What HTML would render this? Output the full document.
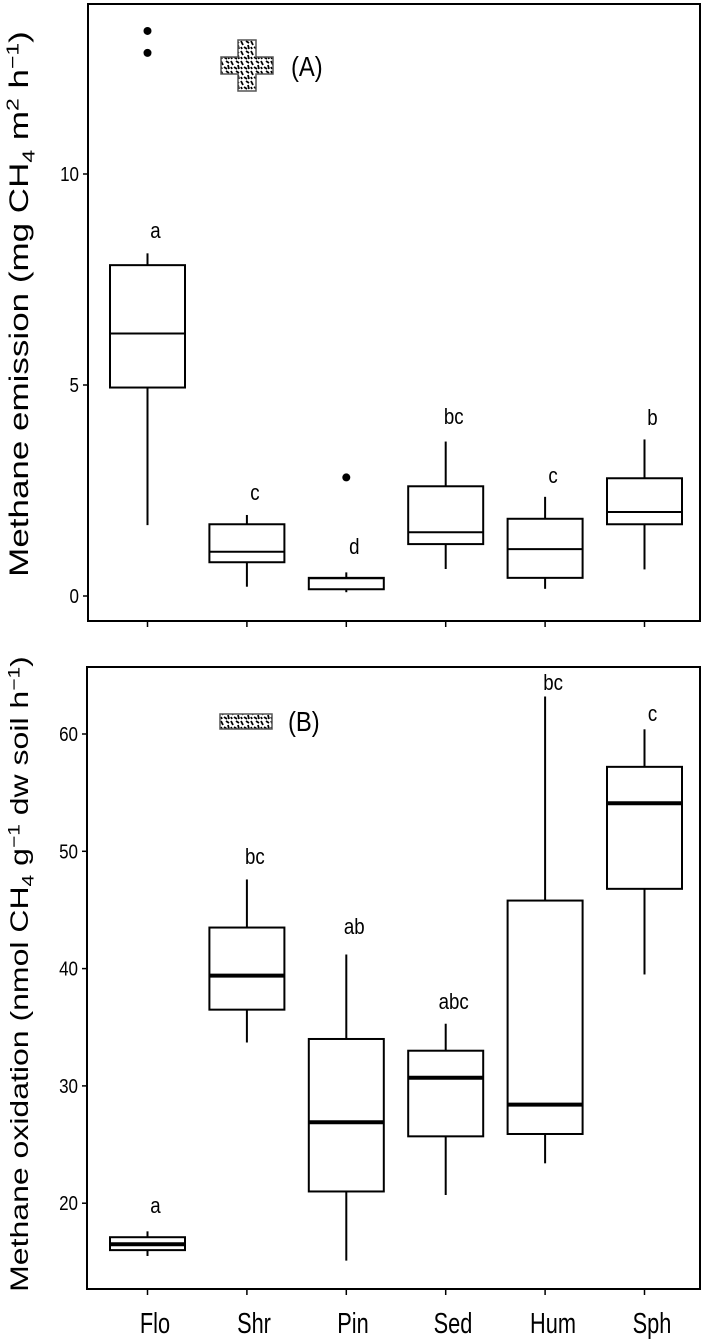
<!DOCTYPE html>
<html><head><meta charset="utf-8">
<style>
html,body{margin:0;padding:0;background:#fff;}
svg{display:block;font-family:"Liberation Sans",Arial,sans-serif;}
</style></head>
<body>
<svg id="chart" width="709" height="1340" viewBox="0 0 709 1340" xmlns="http://www.w3.org/2000/svg">
<g id="panelA"></g>
<g id="panelB"></g>
</svg>
<script>
const categories = ["Flo","Shr","Pin","Sed","Hum","Sph"];
// Panel A: methane emission
const aWhiskerLow = [1.68,0.22,0.09,0.64,0.17,0.63];
const aQ1 = [4.94,0.80,0.16,1.23,0.43,1.70];
const aMedian = [6.22,1.05,0.42,1.51,1.11,1.99];
const aQ3 = [7.84,1.70,0.43,2.60,1.83,2.79];
const aWhiskerHigh = [8.12,1.92,0.56,3.66,2.35,3.71];
const aOutliers = [[13.39,12.87],[],[2.81],[],[],[]];
const aLetters = ["a","c","d","bc","c","b"];
const aTicks = [0,5,10];
// Panel B: methane oxidation
const bWhiskerLow = [15.5,33.7,15.1,20.7,23.4,39.5];
const bQ1 = [16.0,36.5,21.0,25.7,25.9,46.8];
const bMedian = [16.5,39.4,26.9,30.7,28.4,54.1];
const bQ3 = [17.1,43.5,34.0,33.0,45.8,57.2];
const bWhiskerHigh = [17.6,47.6,41.2,35.3,63.2,60.4];
const bLetters = ["a","bc","ab","abc","bc","c"];
const bTicks = [20,30,40,50,60];

const NS = "http://www.w3.org/2000/svg";
function mk(parent, tag, attrs, text){
  const e = document.createElementNS(NS, tag);
  for (const k in attrs) e.setAttribute(k, attrs[k]);
  if (text !== undefined) e.textContent = text;
  parent.appendChild(e);
  return e;
}
const xPos = i => 147.5 + i*99.4;
const halfW = 37.5;

function drawPanel(g, opt){
  const y = v => opt.y0 - (v - opt.v0) * opt.ppu;
  const frame = mk(g,'rect',{x:opt.left,y:opt.top,width:opt.right-opt.left,height:opt.bottom-opt.top,fill:'none',stroke:'#000','stroke-width':2});
  
  
  opt.ticks.forEach(t=>{
    const tk = mk(g,'line',{x1:opt.left-5,x2:opt.left,y1:y(t),y2:y(t),stroke:'#000','stroke-width':1.5});
    
    
    const tl = mk(g,'text',{transform:'translate('+(opt.left-9)+','+(y(t)+7)+') scale(0.85,1)','text-anchor':'end','font-size':20},String(t));
    
    
  });
  categories.forEach((c,i)=>{
    const cx = xPos(i);
    const xt = mk(g,'line',{x1:cx,x2:cx,y1:opt.bottom,y2:opt.bottom+6,stroke:'#000','stroke-width':1.5});
    
    
    const box = mk(g,'g',{});
    
    
    mk(box,'line',{x1:cx,x2:cx,y1:y(opt.hi[i]),y2:y(opt.q3[i]),stroke:'#000','stroke-width':2});
    mk(box,'line',{x1:cx,x2:cx,y1:y(opt.q1[i]),y2:y(opt.lo[i]),stroke:'#000','stroke-width':2});
    mk(box,'rect',{x:cx-halfW,y:y(opt.q3[i]),width:2*halfW,height:Math.max(1,y(opt.q1[i])-y(opt.q3[i])),fill:'#fff',stroke:'#000','stroke-width':2});
    mk(box,'line',{x1:cx-halfW,x2:cx+halfW,y1:y(opt.med[i]),y2:y(opt.med[i]),stroke:'#000','stroke-width':opt.medW});
    (opt.out[i]||[]).forEach(v=>{
      const d = mk(g,'circle',{cx:cx,cy:y(v),r:4,fill:'#000'});
      
      
    });
    const lt = mk(g,'text',{transform:'translate('+(cx+8)+','+(opt.letterY[i]+8)+') scale(0.85,1)','text-anchor':'middle','font-size':22},opt.letters[i]);
    
    
  });
}

const gA = document.getElementById('panelA');
drawPanel(gA,{prefix:'a',left:88,right:700,top:4,bottom:621,y0:596,v0:0,ppu:42.2,ticks:aTicks,
  lo:aWhiskerLow,q1:aQ1,med:aMedian,q3:aQ3,hi:aWhiskerHigh,out:aOutliers,letters:aLetters,medW:2,
  letterY:[230,492,546,416,475,417]});
const gB = document.getElementById('panelB');
drawPanel(gB,{prefix:'b',left:87,right:700,top:667,bottom:1289,y0:734,v0:60,ppu:11.73,ticks:bTicks,
  lo:bWhiskerLow,q1:bQ1,med:bMedian,q3:bQ3,hi:bWhiskerHigh,out:[[],[],[],[],[],[]],letters:bLetters,medW:4,
  letterY:[1205,856,926,1001,682,713]});
</script>
<svg style="position:absolute;left:0;top:0" width="709" height="1340" viewBox="0 0 709 1340" xmlns="http://www.w3.org/2000/svg">
<defs>
<pattern id="hatch2" width="10" height="10" patternUnits="userSpaceOnUse">
<rect width="10" height="10" fill="#fff"/>
<path d="M1 1 L3 5 M6 1 L9 3 M4 7 L7 9 M8 5 L9 9 M1 7 L2 9" stroke="#000" stroke-width="1.8"/>
</pattern>
</defs>
<path d="M238 40 H256 V57 H273 V74 H256 V91 H238 V74 H221 V57 H238 Z" fill="url(#hatch2)" stroke="#555" stroke-width="1.5"/>
<text transform="translate(291,76) scale(0.85,1)" font-size="28" font-family="Liberation Sans, sans-serif">(A)</text>
<rect x="220" y="714" width="52" height="15" fill="url(#hatch2)" stroke="#555" stroke-width="1.5"/>
<text transform="translate(288,731) scale(0.85,1)" font-size="28" font-family="Liberation Sans, sans-serif">(B)</text>
<text transform="translate(28,304) rotate(-90) scale(1,0.78)" text-anchor="middle" font-size="35" font-family="Liberation Sans, sans-serif">Methane emission (mg CH<tspan font-size="23" dy="8">4</tspan><tspan dy="-8"> m</tspan><tspan font-size="23" dy="-12">2</tspan><tspan dy="12"> h</tspan><tspan font-size="23" dy="-12">−1</tspan><tspan dy="12">)</tspan></text>
<text transform="translate(28,974) rotate(-90) scale(1,0.78)" text-anchor="middle" font-size="32" font-family="Liberation Sans, sans-serif">Methane oxidation (nmol CH<tspan font-size="21" dy="7">4</tspan><tspan dy="-7"> g</tspan><tspan font-size="21" dy="-11">−1</tspan><tspan dy="11"> dw soil h</tspan><tspan font-size="21" dy="-11">−1</tspan><tspan dy="11">)</tspan></text>
<g font-size="29" font-family="Liberation Sans, sans-serif" text-anchor="middle">
<text transform="translate(155,1333) scale(0.75,1)">Flo</text>
<text transform="translate(254,1333) scale(0.75,1)">Shr</text>
<text transform="translate(353,1333) scale(0.75,1)">Pin</text>
<text transform="translate(453,1333) scale(0.75,1)">Sed</text>
<text transform="translate(553,1333) scale(0.75,1)">Hum</text>
<text transform="translate(652,1333) scale(0.75,1)">Sph</text>
</g>
</svg>
</body></html>
